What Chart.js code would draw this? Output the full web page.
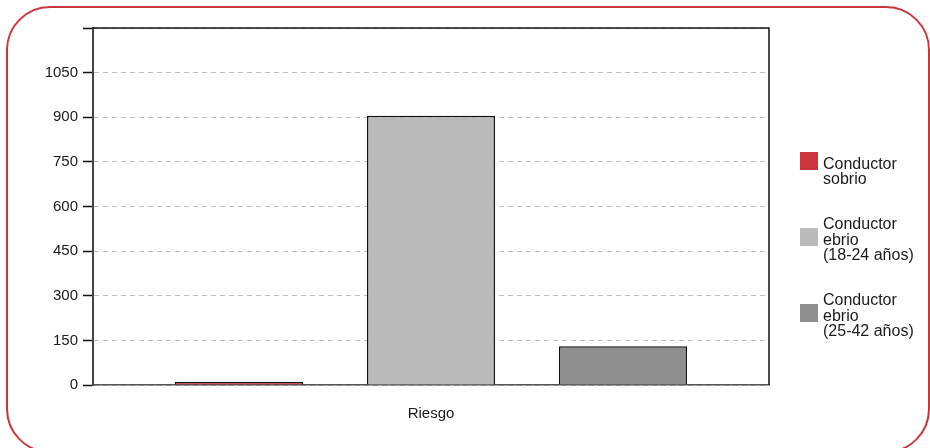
<!DOCTYPE html>
<html>
<head>
<meta charset="utf-8">
<script src="https://cdn.jsdelivr.net/npm/chart.js@4/dist/chart.umd.min.js"></script>
<style>
  html, body { margin: 0; padding: 0; background: #ffffff; }
  #wrap { position: relative; width: 930px; height: 448px; overflow: hidden; }
  #frame {
    position: absolute; left: 6px; top: 6px; width: 924px; height: 447px;
    border: 2.5px solid #c8373e; border-radius: 44px; box-sizing: border-box;
  }
  canvas { position: absolute; left: 0; top: 0; }
</style>
</head>
<body>
<div id="wrap">
  <div id="frame"></div>
  <canvas id="chart" width="930" height="448"></canvas>
</div>
<script>
// Categories on the x axis
const categories = ['Riesgo'];

// Series names (one line per array entry) and their values
const seriesNames = [
  ['Conductor', 'sobrio'],
  ['Conductor', 'ebrio', '(18-24 años)'],
  ['Conductor', 'ebrio', '(25-42 años)']
];
const sobrioValues = [10];
const ebrio1824Values = [905];
const ebrio2542Values = [130];

// Value axis ticks
const yMin = 0;
const yMax = 1200;
const yStep = 150;

const seriesColors = ['#c9363e', '#bbbbbb', '#8f8f8f'];
const seriesValues = [sobrioValues, ebrio1824Values, ebrio2542Values];

const FONT = '"Liberation Sans", Arial, Helvetica, sans-serif';

// Draws the top and right edges of the plot box
const plotFrame = {
  id: 'plotFrame',
  afterDatasetsDraw(chart) {
    const { ctx, chartArea: a } = chart;
    ctx.save();
    ctx.strokeStyle = '#111111';
    ctx.lineWidth = 1.5;
    ctx.beginPath();
    ctx.moveTo(a.left, a.top);
    ctx.lineTo(a.right, a.top);
    ctx.lineTo(a.right, a.bottom);
    ctx.stroke();
    ctx.restore();
  }
};

// Legend at the right with multi-line entries
const sideLegend = {
  id: 'sideLegend',
  afterDraw(chart) {
    const { ctx } = chart;
    const boxX = 800, boxSize = 18, textX = 823, lineH = 15.5;
    const firstTop = 152, gap = 76;
    ctx.save();
    ctx.font = '16px ' + FONT;
    ctx.textBaseline = 'middle';
    ctx.textAlign = 'left';
    chart.data.datasets.forEach((ds, i) => {
      const top = firstTop + i * gap;
      ctx.fillStyle = ds.backgroundColor;
      ctx.fillRect(boxX, top, boxSize, boxSize);
      const lines = seriesNames[i];
      const lastCenter = top + 28;
      ctx.fillStyle = '#1a1a1a';
      lines.forEach((t, j) => {
        const y = lastCenter - (lines.length - 1 - j) * lineH;
        ctx.fillText(t, textX, y);
      });
    });
    ctx.restore();
  }
};

new Chart(document.getElementById('chart'), {
  type: 'bar',
  data: {
    labels: categories,
    datasets: seriesValues.map((vals, i) => ({
      label: seriesNames[i].join(' '),
      data: vals,
      backgroundColor: seriesColors[i],
      borderColor: '#111111',
      borderWidth: 1.5,
      categoryPercentage: 0.852,
      barPercentage: 0.667
    }))
  },
  options: {
    responsive: false,
    animation: false,
    devicePixelRatio: 1,
    layout: { padding: { left: 0, right: 161, top: 28, bottom: 0 } },
    plugins: {
      legend: { display: false },
      tooltip: { enabled: false }
    },
    scales: {
      x: {
        grid: { display: false, drawTicks: false },
        border: { display: true, color: '#555555', width: 1.5 },
        ticks: { color: '#1a1a1a', font: { family: FONT, size: 15 }, padding: 20 },
        afterFit(scale) { scale.height = 63; }
      },
      y: {
        min: yMin,
        max: yMax,
        grid: {
          color: '#bdbdbd',
          lineWidth: 1,
          tickColor: '#111111',
          tickLength: 10,
          tickWidth: 1.5
        },
        border: { display: true, color: '#444444', width: 2, dash: [5, 4] },
        ticks: {
          stepSize: yStep,
          color: '#1a1a1a',
          padding: 5,
          font: { family: FONT, size: 15 },
          callback: (v) => (v === yMax ? '' : v)
        },
        afterFit(scale) { scale.width = 93; }
      }
    }
  },
  plugins: [plotFrame, sideLegend]
});
</script>
</body>
</html>
